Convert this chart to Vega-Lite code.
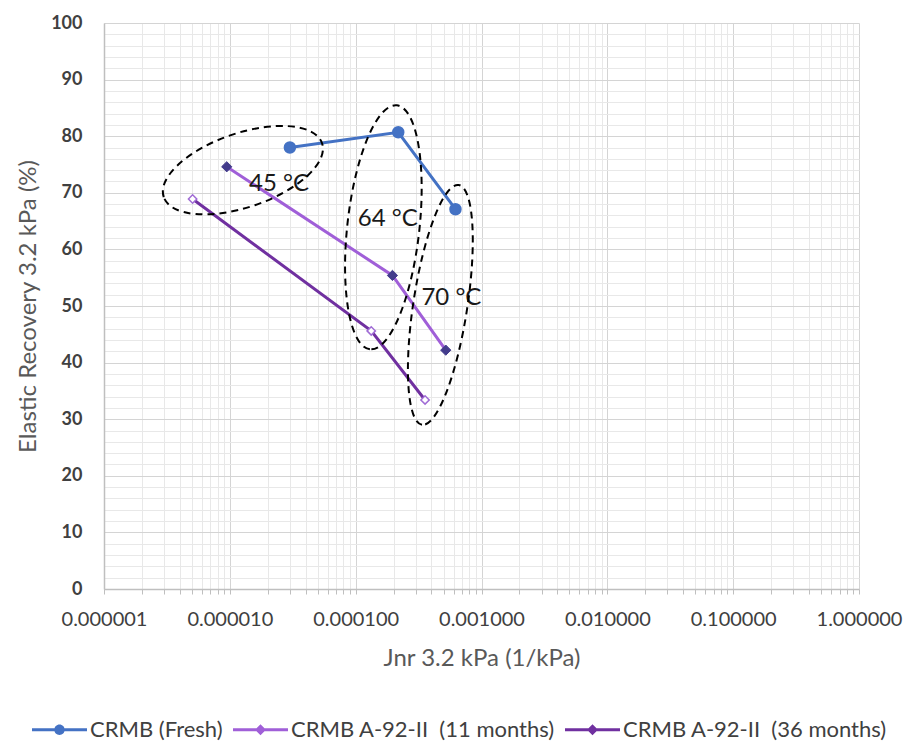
{
  "$schema": "https://vega.github.io/schema/vega-lite/v6.json",
  "width": 755,
  "height": 566,
  "autosize": {"type": "none"},
  "padding": {"left": 104, "top": 23, "right": 49, "bottom": 153},
  "background": "white",
  "config": {
    "view": {"stroke": null},
    "font": "Lato",
    "axis": {"labelFont": "Lato", "titleFont": "Lato"}
  },
  "datasets": {
    "measurements": [
      {"series": "CRMB (Fresh)", "jnr": 0.0000300, "er": 78.0},
      {"series": "CRMB (Fresh)", "jnr": 0.000218, "er": 80.7},
      {"series": "CRMB (Fresh)", "jnr": 0.000621, "er": 67.1},
      {"series": "CRMB A-92-II\u00a0 (11 months)", "jnr": 0.00000945, "er": 74.6},
      {"series": "CRMB A-92-II\u00a0 (11 months)", "jnr": 0.000196, "er": 55.4},
      {"series": "CRMB A-92-II\u00a0 (11 months)", "jnr": 0.000520, "er": 42.2},
      {"series": "CRMB A-92-II\u00a0 (36 months)", "jnr": 0.00000506, "er": 68.9},
      {"series": "CRMB A-92-II\u00a0 (36 months)", "jnr": 0.000133, "er": 45.6},
      {"series": "CRMB A-92-II\u00a0 (36 months)", "jnr": 0.000356, "er": 33.4}
    ],
    "labels": [
      {"zone": "45 °C", "jnr": 0.0000142, "er": 71.6},
      {"zone": "64 °C", "jnr": 0.000104, "er": 65.4},
      {"zone": "70 °C", "jnr": 0.000333, "er": 51.4}
    ],
    "zones": [
      {"zone": "45 °C", "jnr": 0.0000127, "er": 74.0},
      {"zone": "64 °C", "jnr": 0.000166, "er": 63.9},
      {"zone": "70 °C", "jnr": 0.000471, "er": 50.2}
    ]
  },
  "encoding": {
    "x": {
      "field": "jnr",
      "type": "quantitative",
      "scale": {"type": "log", "domain": [0.000001, 1], "nice": false},
      "axis": {
        "title": "Jnr 3.2 kPa (1/kPa)",
        "values": [0.000001, 0.000002, 0.000003, 0.000004, 0.000005, 0.000006, 0.000007, 0.000008, 0.000009,
                   0.00001, 0.00002, 0.00003, 0.00004, 0.00005, 0.00006, 0.00007, 0.00008, 0.00009,
                   0.0001, 0.0002, 0.0003, 0.0004, 0.0005, 0.0006, 0.0007, 0.0008, 0.0009,
                   0.001, 0.002, 0.003, 0.004, 0.005, 0.006, 0.007, 0.008, 0.009,
                   0.01, 0.02, 0.03, 0.04, 0.05, 0.06, 0.07, 0.08, 0.09,
                   0.1, 0.2, 0.3, 0.4, 0.5, 0.6, 0.7, 0.8, 0.9, 1],
        "labelExpr": "abs(log(datum.value)/LN10 - round(log(datum.value)/LN10)) < 0.001 ? format(datum.value, '.6f') : ''",
        "labelOverlap": false,
        "labelFlush": false,
        "labelBound": false,
        "labelFontSize": 20,
        "labelColor": "#404040",
        "labelPadding": 15,
        "grid": true,
        "gridColor": {"condition": {"test": "abs(log(datum.value)/LN10 - round(log(datum.value)/LN10)) < 0.001", "value": "#d4d4d4"}, "value": "#e8e8e8"},
        "gridWidth": 1,
        "domainColor": "#bfbfbf",
        "domainWidth": 1.5,
        "ticks": true,
        "tickColor": "#bfbfbf",
        "tickSize": 5,
        "titleFontSize": 24,
        "titleFontWeight": "normal",
        "titleColor": "#595959",
        "titlePadding": 17
      }
    },
    "y": {
      "field": "er",
      "type": "quantitative",
      "scale": {"domain": [0, 100], "nice": false},
      "axis": {
        "title": "Elastic Recovery 3.2 kPa (%)",
        "values": [0, 2, 4, 6, 8, 10, 12, 14, 16, 18, 20, 22, 24, 26, 28, 30, 32, 34, 36, 38, 40, 42, 44, 46, 48, 50, 52, 54, 56, 58, 60, 62, 64, 66, 68, 70, 72, 74, 76, 78, 80, 82, 84, 86, 88, 90, 92, 94, 96, 98, 100],
        "labelExpr": "datum.value % 10 === 0 ? datum.label : ''",
        "labelOverlap": false,
        "labelFlush": false,
        "labelFontSize": 18,
        "labelFontWeight": "bold",
        "labelColor": "#404040",
        "labelPadding": 22,
        "grid": true,
        "gridColor": {"condition": {"test": "datum.value % 10 === 0", "value": "#d4d4d4"}, "value": "#e8e8e8"},
        "domainColor": "#bfbfbf",
        "domainWidth": 1.5,
        "ticks": false,
        "titleFontSize": 24,
        "titleFontWeight": "normal",
        "titleColor": "#595959",
        "titlePadding": 10
      }
    }
  },
  "layer": [
    {
      "data": {"name": "measurements"},
      "mark": {"type": "line", "strokeWidth": 3},
      "encoding": {
        "color": {
          "field": "series",
          "type": "nominal",
          "scale": {
            "domain": ["CRMB (Fresh)", "CRMB A-92-II\u00a0 (11 months)", "CRMB A-92-II\u00a0 (36 months)"],
            "range": ["#4472C4", "#A05FD8", "#7030A0"]
          },
          "legend": {
            "title": null,
            "orient": "none",
            "direction": "horizontal",
            "columns": 3,
            "legendX": -72,
            "legendY": 679,
            "padding": 0,
            "symbolSize": 3025,
            "labelFont": "Lato",
            "labelFontSize": 22,
            "labelColor": "#404040",
            "labelOffset": 3,
            "columnPadding": 10,
            "labelLimit": 400,
            "encode": {
              "symbols": {
                "update": {
                  "shape": {"signal": "datum.value === 'CRMB (Fresh)' ? 'M -1 -0.055 L 1 -0.055 L 1 0.055 L -1 0.055 Z M 0.19 0 A 0.19 0.19 0 1 1 -0.19 0 A 0.19 0.19 0 1 1 0.19 0 Z' : 'M -1 -0.055 L 1 -0.055 L 1 0.055 L -1 0.055 Z M 0 -0.2 L 0.2 0 L 0 0.2 L -0.2 0 Z'"},
                  "fill": {"scale": "color", "field": "value"},
                  "stroke": {"value": "transparent"},
                  "strokeWidth": {"value": 0},
                  "opacity": {"value": 1}
                }
              }
            }
          }
        }
      }
    },
    {
      "data": {"name": "measurements"},
      "transform": [{"filter": "datum.series === 'CRMB (Fresh)'"}],
      "mark": {"type": "point", "shape": "circle", "filled": true, "size": 110, "fill": "#4472C4", "stroke": "#4472C4", "opacity": 1}
    },
    {
      "data": {"name": "measurements"},
      "transform": [{"filter": "indexof(datum.series, '11 months') >= 0"}],
      "mark": {"type": "point", "shape": "diamond", "filled": true, "size": 105, "fill": "#433C8C", "stroke": "#433C8C", "strokeWidth": 1, "opacity": 1}
    },
    {
      "data": {"name": "measurements"},
      "transform": [{"filter": "indexof(datum.series, '36 months') >= 0"}],
      "mark": {"type": "point", "shape": "diamond", "filled": true, "size": 70, "fill": "white", "stroke": "#A06CD5", "strokeWidth": 1.5, "opacity": 1}
    },
    {
      "data": {"name": "labels"},
      "mark": {"type": "text", "align": "left", "baseline": "middle", "font": "Lato", "fontSize": 24, "color": "#1a1a1a"},
      "encoding": {"text": {"field": "zone"}}
    },
    {
      "data": {"name": "zones"},
      "transform": [{"filter": "datum.zone === '45 °C'"}],
      "mark": {"type": "point", "filled": false, "stroke": "black", "strokeWidth": 2, "strokeDash": [7, 5], "opacity": 1, "size": 27956, "angle": 341.2,
        "shape": "M -1 0 C -1 -0.2447 -0.5523 -0.443 0 -0.443 C 0.5523 -0.443 1 -0.2447 1 0 C 1 0.2447 0.5523 0.443 0 0.443 C -0.5523 0.443 -1 0.2447 -1 0 Z"}
    },
    {
      "data": {"name": "zones"},
      "transform": [{"filter": "datum.zone === '64 °C'"}],
      "mark": {"type": "point", "filled": false, "stroke": "black", "strokeWidth": 2, "strokeDash": [7, 5], "opacity": 1, "size": 60221, "angle": 276.3,
        "shape": "M -1 0 C -1 -0.1624 -0.5523 -0.294 0 -0.294 C 0.5523 -0.294 1 -0.1624 1 0 C 1 0.1624 0.5523 0.294 0 0.294 C -0.5523 0.294 -1 0.1624 -1 0 Z"}
    },
    {
      "data": {"name": "zones"},
      "transform": [{"filter": "datum.zone === '70 °C'"}],
      "mark": {"type": "point", "filled": false, "stroke": "black", "strokeWidth": 2, "strokeDash": [7, 5], "opacity": 1, "size": 58855, "angle": 278.7,
        "shape": "M -1 0 C -1 -0.1232 -0.5523 -0.223 0 -0.223 C 0.5523 -0.223 1 -0.1232 1 0 C 1 0.1232 0.5523 0.223 0 0.223 C -0.5523 0.223 -1 0.1232 -1 0 Z"}
    }
  ]
}
